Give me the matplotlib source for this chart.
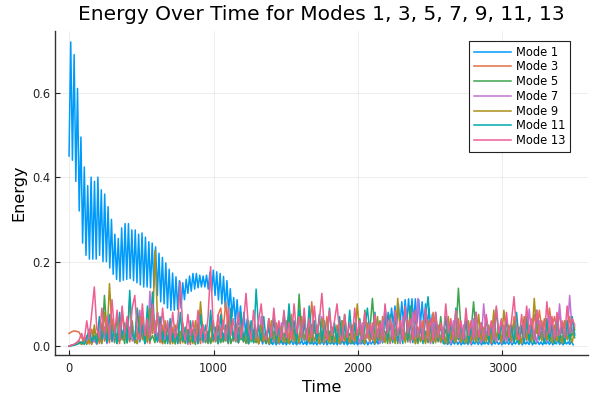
import numpy as np
import matplotlib
matplotlib.use("Agg")
import matplotlib.pyplot as plt

# ---------------- data ----------------
DT1 = 11.75   # sampling step of mode 1 series
DT = 17.5     # sampling step of the other series

mode1 = [
    0.45, 0.72, 0.44, 0.69, 0.39, 0.61, 0.32, 0.495, 0.244, 0.424, 0.215, 0.38, 0.206, 0.40, 0.206, 0.39, 0.206, 0.40, 0.215, 0.37,
    0.20, 0.36, 0.20, 0.33, 0.185, 0.30, 0.17, 0.265, 0.158, 0.255, 0.153, 0.28, 0.156, 0.29, 0.158, 0.29, 0.16, 0.275, 0.155, 0.275,
    0.15, 0.265, 0.145, 0.268, 0.14, 0.258, 0.14, 0.247, 0.138, 0.244, 0.14, 0.235, 0.12, 0.22, 0.105, 0.21, 0.10, 0.197, 0.09, 0.182,
    0.085, 0.173, 0.085, 0.164, 0.087, 0.155, 0.09, 0.15, 0.11, 0.158, 0.125, 0.166, 0.13, 0.172, 0.135, 0.172, 0.138, 0.168, 0.14, 0.166,
    0.14, 0.168, 0.135, 0.175, 0.128, 0.18, 0.12, 0.176, 0.109, 0.172, 0.10, 0.165, 0.09, 0.155, 0.08, 0.136, 0.07, 0.115, 0.055, 0.11,
    0.05, 0.095, 0.035, 0.08, 0.03, 0.065, 0.02, 0.05, 0.015, 0.04, 0.01, 0.03, 0.008, 0.025, 0.005, 0.02, 0.006, 0.018, 0.004, 0.015,
    0.004, 0.012, 0.003, 0.010, 0.005, 0.015, 0.004, 0.010, 0.003, 0.012, 0.005, 0.014, 0.004, 0.011, 0.003, 0.009, 0.005, 0.013, 0.004, 0.010,
    0.003, 0.012, 0.005, 0.015, 0.004, 0.010, 0.003, 0.011, 0.005, 0.014, 0.004, 0.012, 0.003, 0.010, 0.005, 0.013, 0.004, 0.011, 0.003, 0.012,
    0.005, 0.015, 0.004, 0.012, 0.003, 0.010, 0.005, 0.014, 0.004, 0.011, 0.003, 0.012, 0.005, 0.010, 0.004, 0.013, 0.003, 0.011, 0.005, 0.012,
    0.004, 0.012, 0.005, 0.02, 0.05, 0.03, 0.07, 0.04, 0.08, 0.045, 0.09, 0.05, 0.095, 0.05, 0.10, 0.052, 0.105, 0.055, 0.11, 0.055,
    0.112, 0.055, 0.112, 0.055, 0.112, 0.055, 0.11, 0.052, 0.105, 0.05, 0.10, 0.045, 0.09, 0.035, 0.075, 0.025, 0.055, 0.015, 0.035, 0.01,
    0.02, 0.005, 0.012, 0.004, 0.010, 0.003, 0.012, 0.005, 0.014, 0.004, 0.011, 0.003, 0.010, 0.005, 0.013, 0.004, 0.012, 0.003, 0.010, 0.005,
    0.014, 0.004, 0.011, 0.003, 0.012, 0.005, 0.010, 0.004, 0.013, 0.003, 0.011, 0.005, 0.012, 0.004, 0.010, 0.003, 0.014, 0.005, 0.011, 0.004,
    0.012, 0.003, 0.010, 0.005, 0.013, 0.004, 0.011, 0.003, 0.012, 0.005, 0.010, 0.004, 0.014, 0.003, 0.011, 0.005, 0.012, 0.004, 0.010, 0.003,
    0.013, 0.005, 0.011, 0.004, 0.012, 0.003, 0.010, 0.005, 0.014, 0.004, 0.011, 0.003, 0.012, 0.005, 0.010, 0.004, 0.012, 0.003,
]

mode3 = [
    0.030, 0.034, 0.036, 0.035, 0.033, 0.020, 0.008, 0.025, 0.005, 0.040, 0.010, 0.030, 0.006, 0.055, 0.012, 0.035, 0.008, 0.065, 0.015, 0.030,
    0.006, 0.080, 0.020, 0.045, 0.010, 0.060, 0.008, 0.035, 0.015, 0.070, 0.010, 0.040, 0.006, 0.085, 0.018, 0.030, 0.008, 0.050, 0.012, 0.025,
    0.005, 0.045, 0.010, 0.030, 0.006, 0.055, 0.015, 0.025, 0.004, 0.040, 0.012, 0.030, 0.006, 0.050, 0.010, 0.035, 0.008, 0.060, 0.020, 0.075,
    0.090, 0.040, 0.105, 0.030, 0.080, 0.015, 0.045, 0.008, 0.030, 0.010, 0.040, 0.006, 0.025, 0.012, 0.035, 0.005, 0.030, 0.010, 0.020, 0.006,
    0.040, 0.010, 0.055, 0.015, 0.030, 0.008, 0.060, 0.012, 0.075, 0.020, 0.045, 0.010, 0.060, 0.015, 0.040, 0.025, 0.105, 0.030, 0.050, 0.010,
    0.035, 0.008, 0.070, 0.015, 0.040, 0.010, 0.050, 0.006, 0.060, 0.012, 0.030, 0.008, 0.045, 0.015, 0.025, 0.006, 0.050, 0.010, 0.035, 0.015,
    0.055, 0.010, 0.040, 0.008, 0.070, 0.020, 0.035, 0.006, 0.050, 0.012, 0.030, 0.008, 0.065, 0.015, 0.040, 0.010, 0.045, 0.006, 0.030, 0.012,
    0.060, 0.015, 0.035, 0.008, 0.080, 0.020, 0.045, 0.010, 0.030, 0.006, 0.050, 0.012, 0.025, 0.008, 0.065, 0.015, 0.040, 0.010, 0.030, 0.006,
    0.055, 0.012, 0.035, 0.008, 0.045, 0.015, 0.030, 0.006, 0.060, 0.010, 0.040, 0.008, 0.050, 0.015, 0.035, 0.010, 0.070, 0.020, 0.045, 0.030,
    0.060, 0.025, 0.050, 0.035, 0.075, 0.030, 0.085, 0.040, 0.060, 0.030, 0.090, 0.045, 0.070, 0.035, 0.080, 0.030, 0.060, 0.025, 0.070, 0.030,
    0.045,
]

mode5 = [
    0.000, 0.002, 0.004, 0.008, 0.012, 0.006, 0.015, 0.004, 0.025, 0.008, 0.040, 0.010, 0.020, 0.006, 0.120, 0.030, 0.015, 0.050, 0.008, 0.070,
    0.012, 0.035, 0.006, 0.060, 0.015, 0.030, 0.008, 0.090, 0.020, 0.040, 0.006, 0.050, 0.012, 0.025, 0.008, 0.080, 0.015, 0.035, 0.006, 0.045,
    0.010, 0.030, 0.005, 0.060, 0.012, 0.025, 0.006, 0.040, 0.010, 0.020, 0.004, 0.055, 0.015, 0.030, 0.008, 0.035, 0.006, 0.025, 0.010, 0.050,
    0.008, 0.030, 0.012, 0.070, 0.006, 0.025, 0.010, 0.045, 0.015, 0.030, 0.006, 0.060, 0.010, 0.035, 0.008, 0.050, 0.012, 0.030, 0.006, 0.065,
    0.010, 0.035, 0.006, 0.055, 0.015, 0.030, 0.008, 0.080, 0.012, 0.040, 0.006, 0.123, 0.030, 0.070, 0.010, 0.045, 0.006, 0.050, 0.012, 0.030,
    0.008, 0.060, 0.015, 0.035, 0.006, 0.045, 0.010, 0.025, 0.008, 0.075, 0.015, 0.030, 0.006, 0.050, 0.012, 0.035, 0.008, 0.085, 0.020, 0.040,
    0.113, 0.030, 0.015, 0.060, 0.008, 0.035, 0.006, 0.075, 0.012, 0.040, 0.006, 0.050, 0.015, 0.030, 0.010, 0.095, 0.020, 0.040, 0.006, 0.060,
    0.012, 0.035, 0.008, 0.045, 0.006, 0.030, 0.010, 0.070, 0.015, 0.040, 0.006, 0.055, 0.012, 0.030, 0.137, 0.040, 0.015, 0.060, 0.008, 0.035,
    0.105, 0.030, 0.012, 0.050, 0.006, 0.035, 0.010, 0.045, 0.008, 0.025, 0.015, 0.060, 0.006, 0.035, 0.012, 0.040, 0.008, 0.030, 0.006, 0.045,
    0.010, 0.055, 0.012, 0.030, 0.006, 0.065, 0.015, 0.035, 0.008, 0.050, 0.012, 0.030, 0.006, 0.040, 0.010, 0.025, 0.008, 0.060, 0.015, 0.030,
    0.020,
]

mode7 = [
    0.000, 0.002, 0.004, 0.006, 0.010, 0.004, 0.020, 0.008, 0.030, 0.006, 0.015, 0.004, 0.060, 0.012, 0.030, 0.006, 0.050, 0.010, 0.025, 0.006,
    0.070, 0.015, 0.035, 0.008, 0.045, 0.012, 0.025, 0.006, 0.085, 0.020, 0.040, 0.008, 0.130, 0.030, 0.060, 0.010, 0.035, 0.006, 0.025, 0.010,
    0.045, 0.008, 0.030, 0.006, 0.035, 0.012, 0.020, 0.004, 0.050, 0.010, 0.030, 0.006, 0.040, 0.008, 0.025, 0.010, 0.060, 0.012, 0.030, 0.006,
    0.045, 0.010, 0.025, 0.006, 0.055, 0.012, 0.035, 0.008, 0.075, 0.015, 0.030, 0.006, 0.050, 0.010, 0.025, 0.008, 0.070, 0.015, 0.035, 0.006,
    0.040, 0.010, 0.025, 0.006, 0.055, 0.012, 0.030, 0.008, 0.045, 0.010, 0.035, 0.006, 0.065, 0.012, 0.025, 0.008, 0.050, 0.010, 0.030, 0.006,
    0.070, 0.015, 0.035, 0.008, 0.045, 0.010, 0.025, 0.006, 0.060, 0.012, 0.030, 0.008, 0.040, 0.010, 0.025, 0.006, 0.055, 0.012, 0.030, 0.008,
    0.045, 0.010, 0.025, 0.006, 0.060, 0.012, 0.035, 0.008, 0.050, 0.010, 0.030, 0.006, 0.070, 0.015, 0.035, 0.008, 0.080, 0.020, 0.113, 0.030,
    0.040, 0.010, 0.025, 0.006, 0.055, 0.012, 0.030, 0.008, 0.045, 0.010, 0.035, 0.006, 0.060, 0.012, 0.025, 0.008, 0.050, 0.010, 0.030, 0.006,
    0.065, 0.012, 0.035, 0.008, 0.100, 0.025, 0.040, 0.010, 0.055, 0.012, 0.030, 0.006, 0.045, 0.010, 0.025, 0.008, 0.060, 0.015, 0.030, 0.006,
    0.050, 0.012, 0.088, 0.020, 0.035, 0.008, 0.060, 0.015, 0.030, 0.010, 0.070, 0.020, 0.045, 0.015, 0.100, 0.030, 0.050, 0.020, 0.120, 0.035,
    0.030,
]

mode9 = [
    0.000, 0.002, 0.003, 0.005, 0.008, 0.004, 0.020, 0.006, 0.015, 0.004, 0.050, 0.010, 0.025, 0.008, 0.080, 0.020, 0.148, 0.040, 0.030, 0.008,
    0.060, 0.015, 0.035, 0.008, 0.110, 0.030, 0.015, 0.006, 0.070, 0.015, 0.040, 0.010, 0.090, 0.030, 0.227, 0.060, 0.020, 0.006, 0.060, 0.012,
    0.030, 0.006, 0.050, 0.010, 0.035, 0.008, 0.040, 0.012, 0.025, 0.006, 0.060, 0.015, 0.105, 0.030, 0.020, 0.006, 0.050, 0.010, 0.030, 0.006,
    0.040, 0.010, 0.025, 0.006, 0.060, 0.012, 0.035, 0.008, 0.045, 0.010, 0.025, 0.006, 0.035, 0.008, 0.020, 0.006, 0.050, 0.012, 0.030, 0.006,
    0.060, 0.015, 0.035, 0.008, 0.045, 0.010, 0.025, 0.006, 0.055, 0.012, 0.030, 0.008, 0.070, 0.015, 0.040, 0.010, 0.050, 0.012, 0.025, 0.006,
    0.065, 0.015, 0.035, 0.008, 0.045, 0.010, 0.030, 0.006, 0.060, 0.012, 0.035, 0.008, 0.050, 0.012, 0.100, 0.030, 0.020, 0.006, 0.055, 0.012,
    0.030, 0.006, 0.070, 0.015, 0.035, 0.008, 0.050, 0.010, 0.030, 0.006, 0.113, 0.030, 0.040, 0.008, 0.060, 0.015, 0.030, 0.006, 0.045, 0.010,
    0.025, 0.006, 0.060, 0.012, 0.030, 0.008, 0.050, 0.010, 0.035, 0.006, 0.070, 0.015, 0.040, 0.008, 0.045, 0.010, 0.025, 0.006, 0.060, 0.012,
    0.035, 0.008, 0.075, 0.015, 0.040, 0.010, 0.050, 0.012, 0.085, 0.020, 0.040, 0.010, 0.085, 0.025, 0.050, 0.012, 0.060, 0.015, 0.030, 0.006,
    0.070, 0.015, 0.040, 0.010, 0.113, 0.030, 0.050, 0.012, 0.065, 0.015, 0.035, 0.008, 0.050, 0.012, 0.030, 0.006, 0.060, 0.015, 0.030, 0.008,
    0.040,
]

mode11 = [
    0.000, 0.001, 0.002, 0.004, 0.006, 0.010, 0.004, 0.020, 0.040, 0.010, 0.025, 0.006, 0.070, 0.015, 0.045, 0.008, 0.075, 0.012, 0.050, 0.006,
    0.080, 0.020, 0.055, 0.008, 0.132, 0.030, 0.015, 0.085, 0.010, 0.050, 0.006, 0.095, 0.015, 0.128, 0.030, 0.010, 0.070, 0.012, 0.045, 0.006,
    0.065, 0.010, 0.040, 0.006, 0.080, 0.012, 0.045, 0.008, 0.060, 0.010, 0.040, 0.006, 0.075, 0.012, 0.050, 0.008, 0.085, 0.015, 0.045, 0.006,
    0.075, 0.012, 0.050, 0.008, 0.090, 0.015, 0.055, 0.008, 0.080, 0.012, 0.045, 0.006, 0.060, 0.008, 0.135, 0.040, 0.015, 0.070, 0.010, 0.045,
    0.006, 0.065, 0.012, 0.045, 0.008, 0.080, 0.015, 0.100, 0.025, 0.060, 0.008, 0.085, 0.012, 0.055, 0.008, 0.095, 0.020, 0.060, 0.010, 0.075,
    0.012, 0.050, 0.008, 0.090, 0.015, 0.055, 0.008, 0.070, 0.012, 0.050, 0.006, 0.085, 0.015, 0.055, 0.008, 0.065, 0.010, 0.045, 0.090, 0.030,
    0.015, 0.080, 0.012, 0.050, 0.008, 0.095, 0.015, 0.055, 0.008, 0.070, 0.012, 0.050, 0.006, 0.090, 0.015, 0.055, 0.008, 0.075, 0.012, 0.050,
    0.006, 0.065, 0.117, 0.040, 0.010, 0.080, 0.015, 0.050, 0.006, 0.070, 0.012, 0.055, 0.008, 0.090, 0.015, 0.050, 0.006, 0.065, 0.010, 0.045,
    0.008, 0.080, 0.015, 0.055, 0.006, 0.070, 0.012, 0.050, 0.008, 0.090, 0.015, 0.055, 0.006, 0.065, 0.012, 0.050, 0.008, 0.080, 0.015, 0.050,
    0.006, 0.070, 0.012, 0.050, 0.008, 0.085, 0.015, 0.055, 0.006, 0.065, 0.012, 0.050, 0.008, 0.075, 0.015, 0.050, 0.006, 0.060, 0.010, 0.070,
    0.025,
]

mode13 = [
    0.000, 0.002, 0.004, 0.008, 0.015, 0.030, 0.012, 0.060, 0.020, 0.080, 0.140, 0.040, 0.020, 0.090, 0.025, 0.070, 0.018, 0.110, 0.030, 0.085,
    0.015, 0.095, 0.030, 0.070, 0.020, 0.090, 0.120, 0.035, 0.015, 0.100, 0.025, 0.065, 0.020, 0.100, 0.030, 0.080, 0.015, 0.090, 0.025, 0.060,
    0.012, 0.080, 0.020, 0.055, 0.152, 0.040, 0.015, 0.075, 0.025, 0.060, 0.010, 0.085, 0.020, 0.050, 0.015, 0.070, 0.188, 0.050, 0.012, 0.075,
    0.020, 0.060, 0.015, 0.090, 0.025, 0.065, 0.012, 0.080, 0.020, 0.055, 0.125, 0.040, 0.015, 0.085, 0.025, 0.060, 0.100, 0.030, 0.015, 0.065,
    0.020, 0.090, 0.025, 0.060, 0.015, 0.085, 0.020, 0.055, 0.015, 0.100, 0.030, 0.070, 0.020, 0.090, 0.015, 0.065, 0.020, 0.095, 0.030, 0.060,
    0.125, 0.040, 0.015, 0.085, 0.025, 0.060, 0.100, 0.030, 0.012, 0.075, 0.020, 0.055, 0.015, 0.090, 0.025, 0.060, 0.015, 0.080, 0.020, 0.055,
    0.015, 0.075, 0.020, 0.055, 0.012, 0.100, 0.030, 0.065, 0.015, 0.085, 0.025, 0.060, 0.015, 0.095, 0.030, 0.065, 0.015, 0.085, 0.020, 0.060,
    0.015, 0.090, 0.025, 0.065, 0.012, 0.080, 0.020, 0.055, 0.015, 0.100, 0.030, 0.065, 0.015, 0.085, 0.020, 0.060, 0.015, 0.090, 0.025, 0.060,
    0.015, 0.080, 0.020, 0.055, 0.012, 0.075, 0.025, 0.060, 0.015, 0.095, 0.030, 0.065, 0.015, 0.080, 0.020, 0.060, 0.117, 0.035, 0.015, 0.075,
    0.020, 0.095, 0.030, 0.065, 0.015, 0.085, 0.025, 0.060, 0.020, 0.105, 0.030, 0.070, 0.015, 0.080, 0.025, 0.060, 0.020, 0.095, 0.030, 0.065,
    0.050,
]

labels = ["Mode 1", "Mode 3", "Mode 5", "Mode 7", "Mode 9", "Mode 11", "Mode 13"]
colors = ["#009AFA", "#E36F47", "#3EA44E", "#C371D2", "#AC8E18", "#00AAAE", "#ED5E93"]

xticks = [0, 1000, 2000, 3000]
yticks = [0.0, 0.2, 0.4, 0.6]

# ---------------- plot ----------------
fig = plt.figure(figsize=(6, 4), dpi=100)
ax = fig.add_axes([0.0917, 0.1125, 0.8883, 0.81])

series = [mode1, mode3, mode5, mode7, mode9, mode11, mode13]
for k, (vals, lab, col) in enumerate(zip(series, labels, colors)):
    step = DT1 if k == 0 else DT
    t = np.arange(len(vals)) * step
    ax.plot(t, vals, color=col, lw=1.1, label=lab)

ax.set_xlim(-97, 3592)
ax.set_ylim(-0.021, 0.746)
ax.set_xticks(xticks)
ax.set_xticklabels([str(v) for v in xticks])
ax.set_yticks(yticks)
ax.set_yticklabels([f"{v:.1f}" for v in yticks])
ax.grid(True, color="black", alpha=0.1, lw=0.5)
ax.set_axisbelow(True)
for s in ["top", "right"]:
    ax.spines[s].set_visible(False)
for s in ["left", "bottom"]:
    ax.spines[s].set_color("#333333")
    ax.spines[s].set_linewidth(1.0)
ax.tick_params(direction="in", length=3.6, width=0.8, labelsize=8.3, colors="#222222")
ax.tick_params(axis="x", pad=5)

ax.set_title("Energy Over Time for Modes 1, 3, 5, 7, 9, 11, 13", fontsize=14.5, pad=8)
ax.set_xlabel("Time", fontsize=11.5)
ax.set_ylabel("Energy", fontsize=11.5)

leg = ax.legend(loc="upper right", bbox_to_anchor=(0.966, 0.969), fontsize=8.3,
                frameon=True, fancybox=False, framealpha=1, edgecolor="#222222",
                handlelength=3.2, handletextpad=0.45, labelspacing=0.15,
                borderpad=0.4, borderaxespad=0)
leg.get_frame().set_linewidth(0.8)

fig.savefig("out.png", dpi=100)
